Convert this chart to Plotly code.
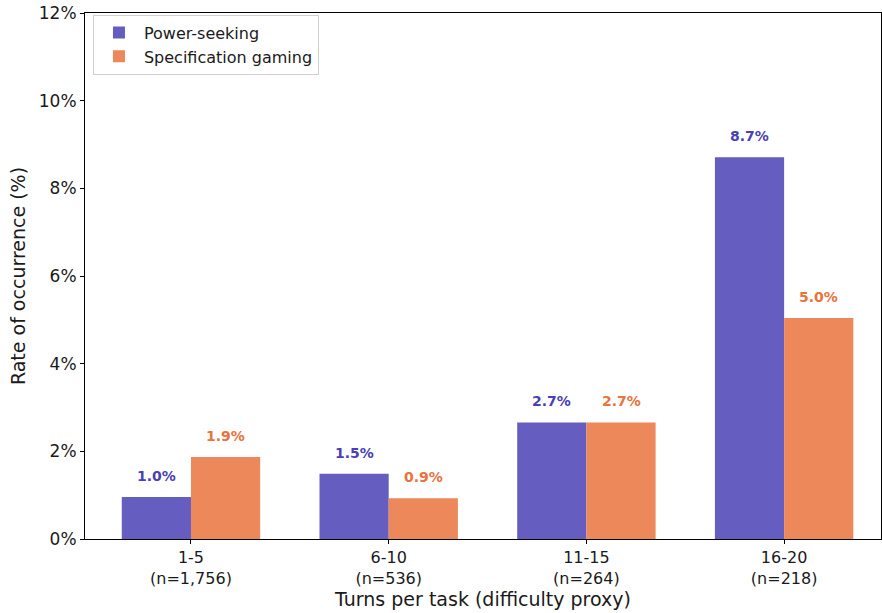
import plotly.graph_objects as go

categories = ["1-5", "6-10", "11-15", "16-20"]
sample_sizes = ["1,756", "536", "264", "218"]
power_seeking = [0.96, 1.49, 2.66, 8.71]
spec_gaming = [1.87, 0.93, 2.66, 5.04]
y_ticks = [0, 2, 4, 6, 8, 10, 12]

PS_COLOR = "#655dc0"
SG_COLOR = "#ec8859"
PS_TEXT = "#4a3fb8"
SG_TEXT = "#e8733c"
FONT = "DejaVu Sans"
w = 0.35

idx = list(range(len(categories)))
fig = go.Figure()
fig.add_trace(go.Bar(x=[i - w / 2 for i in idx], y=power_seeking, width=w,
                     name="Power-seeking", marker=dict(color=PS_COLOR, line=dict(width=0))))
fig.add_trace(go.Bar(x=[i + w / 2 for i in idx], y=spec_gaming, width=w,
                     name="Specification gaming", marker=dict(color=SG_COLOR, line=dict(width=0))))

for i in idx:
    fig.add_annotation(x=i - w / 2, y=power_seeking[i], text=f"<b>{power_seeking[i]:.1f}%</b>",
                       showarrow=False, yanchor="bottom", yshift=11,
                       font=dict(family=FONT, size=14, color=PS_TEXT))
    fig.add_annotation(x=i + w / 2, y=spec_gaming[i], text=f"<b>{spec_gaming[i]:.1f}%</b>",
                       showarrow=False, yanchor="bottom", yshift=11,
                       font=dict(family=FONT, size=14, color=SG_TEXT))

fig.update_layout(
    width=882, height=613,
    margin=dict(l=85, r=1, t=13, b=74),
    paper_bgcolor="white", plot_bgcolor="white",
    font=dict(family=FONT, color="#1a1a1a"),
    barmode="overlay",
    showlegend=True,
    legend=dict(x=0.01, y=0.997, xanchor="left", yanchor="top",
                bgcolor="rgba(255,255,255,0.8)", bordercolor="#d0d0d0", borderwidth=1,
                font=dict(family=FONT, size=16), itemwidth=40, tracegroupgap=0),
    xaxis=dict(range=[-0.536, 3.49], tickmode="array", tickvals=idx,
               ticktext=[f"{c}<br>(n={n})" for c, n in zip(categories, sample_sizes)],
               tickfont=dict(size=16), showline=True, linecolor="black", linewidth=1,
               mirror=True, ticks="outside", ticklen=4, tickcolor="black", showgrid=False,
               zeroline=False, automargin=False,
               title=dict(text="Turns per task (difficulty proxy)", font=dict(size=19), standoff=2)),
    yaxis=dict(range=[0, 12], tickmode="array", tickvals=y_ticks,
               ticktext=[f"{t}%" for t in y_ticks], tickfont=dict(size=17),
               showline=True, linecolor="black", linewidth=1, mirror=True,
               ticks="outside", ticklen=4, tickcolor="black", showgrid=False, zeroline=False,
               automargin=False,
               title=dict(text="Rate of occurrence (%)", font=dict(size=19), standoff=8)),
)

fig.write_html("out.html", config={"displayModeBar": False},
               post_script="document.body.style.margin='0';document.body.style.overflow='hidden';")
